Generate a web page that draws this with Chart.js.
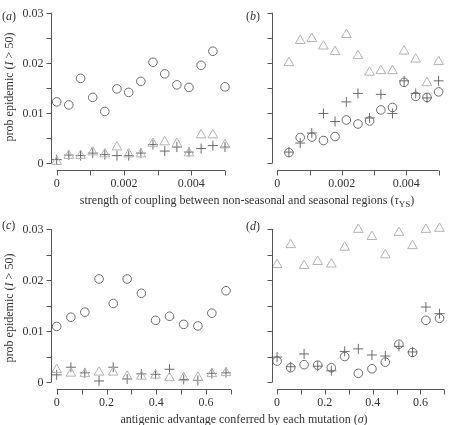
<!DOCTYPE html>
<html>
<head>
<meta charset="utf-8">
<script src="https://cdn.jsdelivr.net/npm/chart.js@4"></script>
<style>
  body { margin: 0; background: #fff; }
  #wrap { position: relative; width: 451px; height: 425px; font-family: "Liberation Serif", "DejaVu Serif", serif; color: #333; }
  #wrap canvas { position: absolute; left: 0; top: 0; }
  .txt { position: absolute; font-size: 12px; line-height: 14px; white-space: nowrap; }
  .ytitle { transform: translate(-50%, -50%) rotate(-90deg); }
  .xtitle { transform: translateX(-50%); }
</style>
</head>
<body>
<div id="wrap">
  <canvas id="chartA" width="451" height="425"></canvas>
  <canvas id="chartB" width="451" height="425"></canvas>
  <canvas id="chartC" width="451" height="425"></canvas>
  <canvas id="chartD" width="451" height="425"></canvas>

  <div class="txt" style="left:2px;top:9px">(<i>a</i>)</div>
  <div class="txt" style="left:246px;top:9px">(<i>b</i>)</div>
  <div class="txt" style="left:2px;top:218px">(<i>c</i>)</div>
  <div class="txt" style="left:246px;top:219px">(<i>d</i>)</div>

  <div class="txt ytitle" style="left:9px;top:87px">prob epidemic (<i>I</i> &gt; 50)</div>
  <div class="txt ytitle" style="left:9px;top:308px">prob epidemic (<i>I</i> &gt; 50)</div>

  <div class="txt xtitle" style="left:247px;top:193px">strength of coupling between non-seasonal and seasonal regions (<i>τ</i><sub style="font-size:9px">YS</sub>)</div>
  <div class="txt xtitle" style="left:244px;top:412px">antigenic advantage conferred by each mutation (<i>σ</i>)</div>
</div>

<script>
// x positions (coupling strength and antigenic advantage)
const couplingA = [0, 0.00036, 0.00071, 0.00107, 0.00143, 0.00179, 0.00214, 0.0025, 0.00286, 0.00321, 0.00357, 0.00393, 0.00429, 0.00464, 0.005];
const couplingB = [0.00036, 0.00071, 0.00107, 0.00143, 0.00179, 0.00214, 0.0025, 0.00286, 0.00321, 0.00357, 0.00393, 0.00429, 0.00464, 0.005];
const sigmaVals = [0, 0.057, 0.113, 0.17, 0.227, 0.283, 0.34, 0.397, 0.453, 0.51, 0.567, 0.623, 0.68];

// panel (a)
const aCircles   = [0.0122, 0.0116, 0.0169, 0.0131, 0.0103, 0.0148, 0.0141, 0.0163, 0.0201, 0.0178, 0.0156, 0.0151, 0.0195, 0.0223, 0.0152];
const aTriangles = [0.0003, 0.0015, 0.0015, 0.0022, 0.0018, 0.0032, 0.0018, 0.0018, 0.0039, 0.0042, 0.0039, 0.0020, 0.0056, 0.0056, 0.0036];
const aPlus      = [0.0007, 0.0016, 0.0015, 0.0020, 0.0017, 0.0015, 0.0015, 0.0020, 0.0037, 0.0024, 0.0032, 0.0022, 0.0029, 0.0035, 0.0032];

// panel (b)
const bCircles   = [0.0021, 0.0051, 0.0052, 0.0045, 0.0053, 0.0086, 0.0078, 0.0084, 0.0106, 0.0111, 0.0161, 0.0133, 0.0131, 0.0142];
const bTriangles = [0.0200, 0.0244, 0.0248, 0.0233, 0.0222, 0.0256, 0.0214, 0.0181, 0.0184, 0.0184, 0.0223, 0.0207, 0.0160, 0.0202];
const bPlus      = [0.0022, 0.0040, 0.0060, 0.0099, 0.0083, 0.0122, 0.0139, 0.0090, 0.0137, 0.0099, 0.0164, 0.0139, 0.0130, 0.0164];

// panel (c)
const cCircles   = [0.0109, 0.0127, 0.0137, 0.0202, 0.0154, 0.0202, 0.0174, 0.0121, 0.0129, 0.0113, 0.0110, 0.0135, 0.0179];
const cTriangles = [0.0024, 0.0017, 0.0016, 0.0019, 0.0019, 0.0011, 0.0011, 0.0013, 0.0008, 0.0008, 0.0009, 0.0016, 0.0018];
const cPlus      = [0.0014, 0.0029, 0.0018, 0.0002, 0.0029, 0.0006, 0.0016, 0.0015, 0.0025, 0.0005, 0.0003, 0.0017, 0.0018];

// panel (d)
const dCircles   = [0.0041, 0.0028, 0.0034, 0.0033, 0.0028, 0.0050, 0.0017, 0.0026, 0.0039, 0.0074, 0.0058, 0.0121, 0.0125];
const dTriangles = [0.0230, 0.0269, 0.0228, 0.0236, 0.0231, 0.0264, 0.0299, 0.0285, 0.0249, 0.0293, 0.0267, 0.0299, 0.0301];
const dPlus      = [0.0049, 0.0030, 0.0055, 0.0031, 0.0022, 0.0060, 0.0065, 0.0053, 0.0051, 0.0070, 0.0059, 0.0147, 0.0134];

// tick marks and labels
const yTicks = [0, 0.005, 0.01, 0.015, 0.02, 0.025, 0.03];
const yTickLabels = ['0', '', '0.01', '', '0.02', '', '0.03'];
const couplingTicks = [0, 0.001, 0.002, 0.003, 0.004, 0.005];
const couplingTickLabels = ['0', '', '0.002', '', '0.004', ''];
const sigmaTicks = [0, 0.1, 0.2, 0.3, 0.4, 0.5, 0.6, 0.7];
const sigmaTickLabels = ['0', '', '0.2', '', '0.4', '', '0.6', ''];

const AXIS_COLOR = '#555';
const TEXT_COLOR = '#333';
const FONT = '12px "Liberation Serif", "DejaVu Serif", serif';

/**
 * R-style detached axes: axis lines span only the tick range and sit at the
 * chart area edge, a few pixels away from the zero of the data.
 */
const rAxesPlugin = {
  id: 'rAxes',
  afterDraw: function(chart, args, opts) {
    const ctx = chart.ctx;
    const xs = chart.scales.x;
    const ys = chart.scales.y;
    const area = chart.chartArea;
    ctx.save();
    ctx.strokeStyle = AXIS_COLOR;
    ctx.lineWidth = 1;
    ctx.fillStyle = TEXT_COLOR;
    ctx.font = FONT;

    // y axis
    const yLeft = Math.round(area.left) + 0.5;
    ctx.beginPath();
    ctx.moveTo(yLeft, ys.getPixelForValue(opts.yTicks[0]));
    ctx.lineTo(yLeft, ys.getPixelForValue(opts.yTicks[opts.yTicks.length - 1]));
    opts.yTicks.forEach(v => {
      const py = Math.round(ys.getPixelForValue(v)) + 0.5;
      ctx.moveTo(yLeft, py);
      ctx.lineTo(yLeft - 5, py);
    });
    ctx.stroke();
    if (opts.showYLabels) {
      ctx.textAlign = 'right';
      ctx.textBaseline = 'middle';
      opts.yTicks.forEach((v, i) => {
        if (opts.yLabels[i]) ctx.fillText(opts.yLabels[i], yLeft - 8, ys.getPixelForValue(v) + 1);
      });
    }

    // x axis
    const xBottom = Math.round(area.bottom) + 0.5;
    ctx.beginPath();
    ctx.moveTo(xs.getPixelForValue(opts.xTicks[0]), xBottom);
    ctx.lineTo(xs.getPixelForValue(opts.xTicks[opts.xTicks.length - 1]), xBottom);
    opts.xTicks.forEach(v => {
      const px = Math.round(xs.getPixelForValue(v)) + 0.5;
      ctx.moveTo(px, xBottom);
      ctx.lineTo(px, xBottom + 5);
    });
    ctx.stroke();
    ctx.textAlign = 'center';
    ctx.textBaseline = 'top';
    opts.xTicks.forEach((v, i) => {
      if (opts.xLabels[i]) ctx.fillText(opts.xLabels[i], xs.getPixelForValue(v), xBottom + 7);
    });
    ctx.restore();
  }
};
Chart.register(rAxesPlugin);

function toPoints(xv, yv) {
  return xv.map((x, i) => ({ x: x, y: yv[i] }));
}

function makePanel(id, xv, circles, triangles, plus, area, xRange, yRange, axes) {
  return new Chart(document.getElementById(id), {
    type: 'scatter',
    data: {
      datasets: [
        { data: toPoints(xv, triangles), pointStyle: 'triangle', pointRadius: 5.6, borderColor: '#b2b2b2', backgroundColor: 'rgba(0,0,0,0)', borderWidth: 1 },
        { data: toPoints(xv, plus), pointStyle: 'cross', pointRadius: 5, borderColor: '#6a6a6a', backgroundColor: 'rgba(0,0,0,0)', borderWidth: 1 },
        { data: toPoints(xv, circles), pointStyle: 'circle', pointRadius: 4.3, borderColor: '#6a6a6a', backgroundColor: 'rgba(0,0,0,0)', borderWidth: 1 }
      ]
    },
    options: {
      responsive: false,
      animation: false,
      clip: false,
      layout: { padding: { left: area.left, right: 451 - area.right, top: area.top, bottom: 425 - area.bottom } },
      scales: {
        x: { type: 'linear', min: xRange[0], max: xRange[1], display: false },
        y: { type: 'linear', min: yRange[0], max: yRange[1], display: false }
      },
      plugins: {
        legend: { display: false },
        tooltip: { enabled: false },
        rAxes: axes
      }
    }
  });
}

const yRangeTop = [-0.00137, 0.0312];
const yRangeBottom = [-0.00137, 0.0312];

makePanel('chartA', couplingA, aCircles, aTriangles, aPlus,
  { left: 50.7, right: 232, top: 3.9, bottom: 170 },
  [-0.000178, 0.005208], yRangeTop,
  { xTicks: couplingTicks, xLabels: couplingTickLabels, yTicks: yTicks, yLabels: yTickLabels, showYLabels: true });

makePanel('chartB', couplingB, bCircles, bTriangles, bPlus,
  { left: 271.7, right: 451, top: 3.9, bottom: 170 },
  [-0.000173, 0.005179], yRangeTop,
  { xTicks: couplingTicks, xLabels: couplingTickLabels, yTicks: yTicks, yLabels: yTickLabels, showYLabels: false });

makePanel('chartC', sigmaVals, cCircles, cTriangles, cPlus,
  { left: 50.7, right: 232, top: 222.9, bottom: 389 },
  [-0.0241, 0.704], yRangeBottom,
  { xTicks: sigmaTicks, xLabels: sigmaTickLabels, yTicks: yTicks, yLabels: yTickLabels, showYLabels: true });

makePanel('chartD', sigmaVals, dCircles, dTriangles, dPlus,
  { left: 271.7, right: 451, top: 222.9, bottom: 389 },
  [-0.0226, 0.7004], yRangeBottom,
  { xTicks: sigmaTicks, xLabels: sigmaTickLabels, yTicks: yTicks, yLabels: yTickLabels, showYLabels: false });
</script>
</body>
</html>
